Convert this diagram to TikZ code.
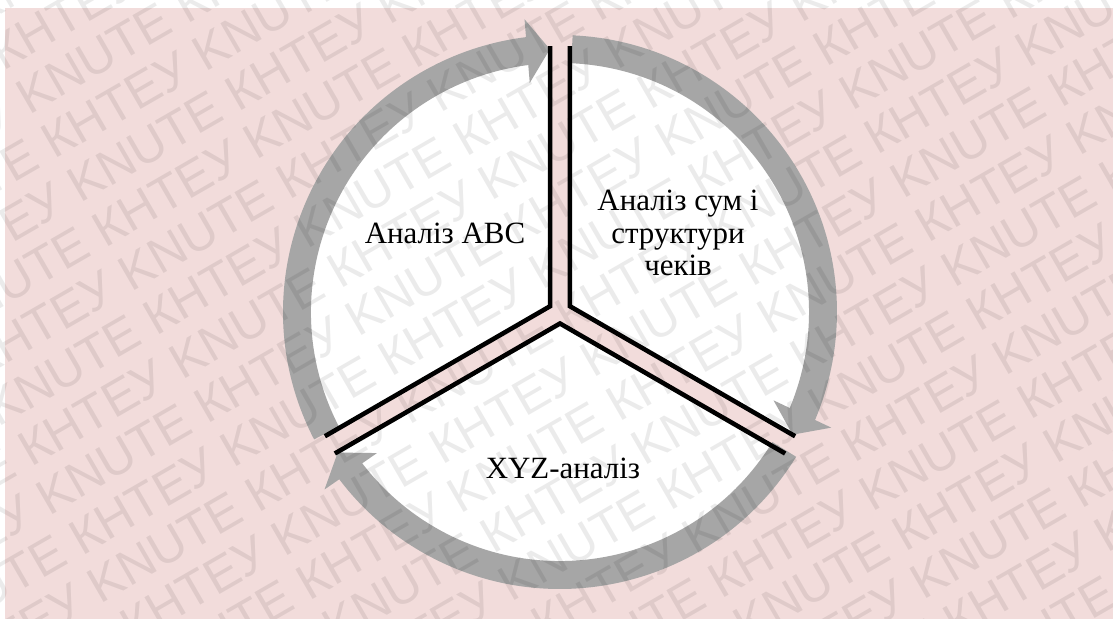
\documentclass[tikz,border=0pt]{standalone}
\usepackage{fontspec}
\setmainfont{Liberation Serif}
\newfontfamily\wmfont{Liberation Sans}
\usetikzlibrary{arrows.meta,bending}
\definecolor{bgpink}{RGB}{242,220,219}
\definecolor{ringgray}{RGB}{166,166,166}
\newcommand{\wmrowA}{\llap{KNUTE КНТЕУ KNUTE КНТЕУ KNUTE КНТЕУ KNUTE КНТЕУ\ }KNUTE КНТЕУ KNUTE КНТЕУ}
\newcommand{\wmrowB}{\llap{КНТЕУ KNUTE КНТЕУ KNUTE КНТЕУ KNUTE КНТЕУ KNUTE\ }КНТЕУ KNUTE КНТЕУ KNUTE}
\tikzset{
  segfill/.style={fill=white},
  segline/.style={draw=black,line width=2.6pt},
  ringarc/.style={draw=ringgray,line width=15.9pt,-{Triangle[length=13pt,width=35.7pt]}},
  segtext/.style={font=\fontsize{17.6}{18.5}\selectfont,align=center,inner sep=0pt},
  wmark/.style={font=\wmfont\fontsize{28.4}{30}\selectfont,anchor=base west,inner sep=0pt,text=black,text opacity=0.08},
}

\begin{document}
\begin{tikzpicture}[x=0.02cm,y=0.02cm]
\useasboundingbox (0,0) rectangle (1113,619);
\fill[white] (0,0) rectangle (1113,619);
\fill[bgpink] (5,0) rectangle (1113,611);
\coordinate (C) at (560,307);
\foreach \b/\s/\e in {150/90/210,30/-30/90,270/210/330}
  \fill[segfill] ([shift={(\b:11.5)}]C) -- +(\s:260) arc[start angle=\s,end angle=\e,radius=260] -- cycle;
\foreach \s/\t in {207.4/92.2,87.4/-27.8,-31.5/-147.7}
  \draw[ringarc] ([shift={(\s:263)}]C) arc[start angle=\s,end angle=\t,radius=263];
\foreach \b/\s/\e in {150/90/210,30/-30/90,270/210/330}
  \draw[segline] ([shift={(\b:11.5)}]C) +(\s:260) -- ([shift={(\b:11.5)}]C) -- +(\e:260);
\node[segtext] (abc) at (445,386) {Аналіз ABC};
\node[segtext] (sums) at (678,386) {Аналіз сум і\\структури\\чеків};
\node[segtext] (xyz) at (563,151) {XYZ-аналіз};
\begin{scope}
  \clip (0,0) rectangle (1113,619);
  \begin{scope}[shift={(903,419)},rotate=30,transform shape]
    \foreach \r in {-10,...,13} {
      \pgfmathtruncatemacro\rodd{mod(\r+20,2)}
      \node[wmark] at (0,\r*51) {\ifnum\rodd=0 \wmrowA\else\wmrowB\fi};
    }
  \end{scope}
\end{scope}
\end{tikzpicture}
\end{document}
